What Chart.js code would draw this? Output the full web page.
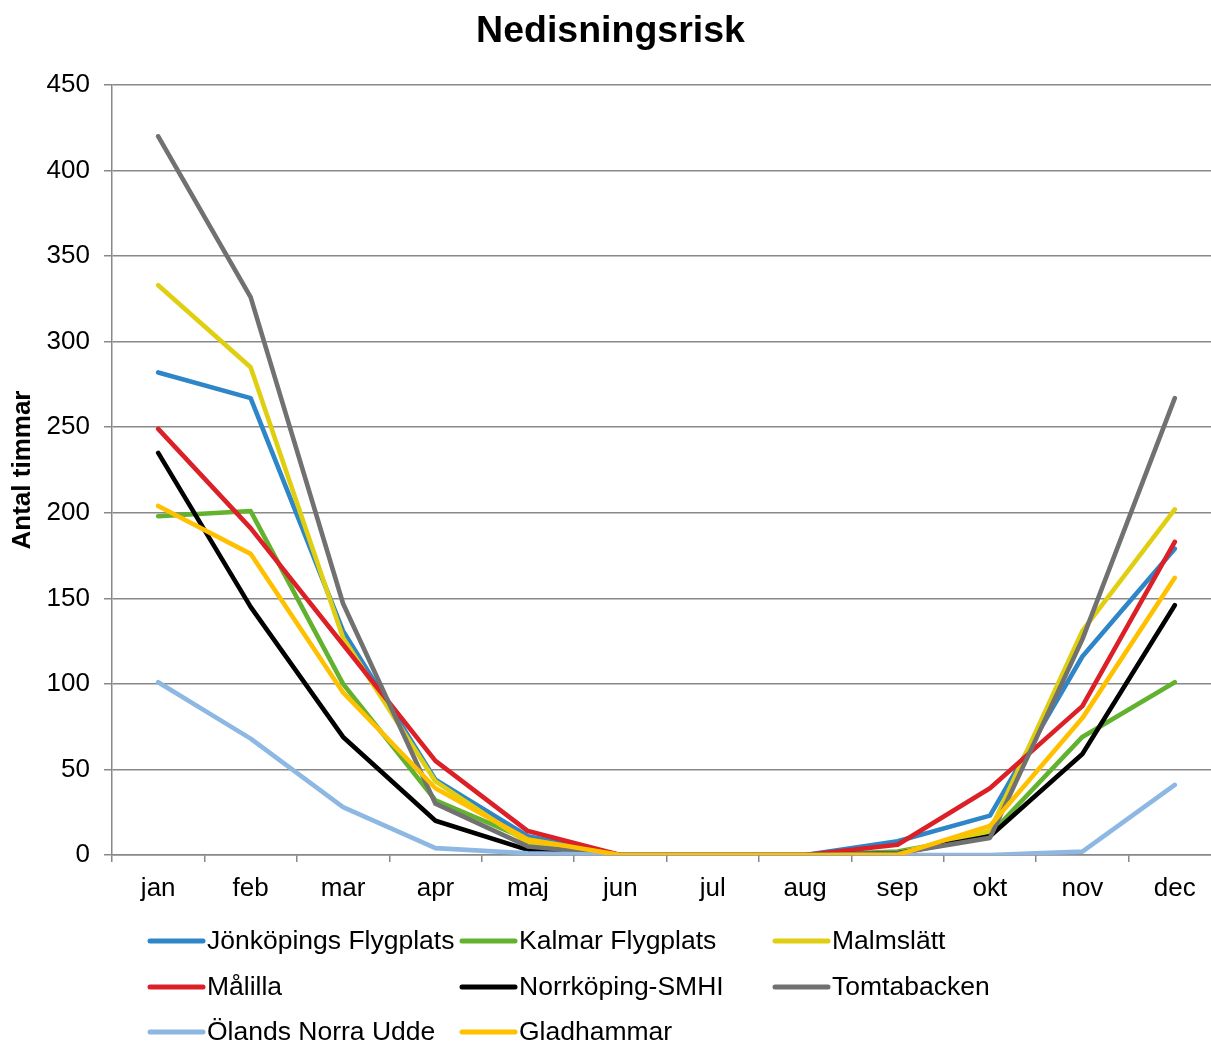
<!DOCTYPE html>
<html>
<head>
<meta charset="utf-8">
<script src="https://cdn.jsdelivr.net/npm/chart.js@4/dist/chart.umd.min.js"></script>
<style>
  html, body { margin: 0; padding: 0; background: #fff; overflow: hidden; width: 1211px; height: 1042px; }
  canvas { display: block; }
</style>
</head>
<body>
<canvas id="c" width="1221" height="1042"></canvas>
<script>
const months = ['jan','feb','mar','apr','maj','jun','jul','aug','sep','okt','nov','dec'];
const yTicks = [0, 50, 100, 150, 200, 250, 300, 350, 400, 450];

const jonkoping   = [282, 267, 131, 44, 11, 0, 0, 0, 8, 23, 116, 179];
const kalmar      = [198, 201, 100, 32, 9, 0, 0, 0, 2, 12, 69, 101];
const malmslatt   = [333, 285, 127, 43, 7, 0, 0, 0, 1, 14, 131, 202];
const malilla     = [249, 191, 123, 55, 14, 0, 0, 0, 6, 39, 87, 183];
const norrkoping  = [235, 145, 69, 20, 3, 0, 0, 0, 1, 11, 59, 146];
const tomtabacken = [420, 326, 147, 30, 5, 0, 0, 0, 1, 10, 126, 267];
const oland       = [101, 68, 28, 4, 1, 0, 0, 0, 0, 0, 2, 41];
const gladhammar  = [204, 176, 95, 39, 9, 0, 0, 0, 0, 17, 80, 162];

const seriesNames = ['Jönköpings Flygplats','Kalmar Flygplats','Malmslätt','Målilla','Norrköping-SMHI','Tomtabacken','Ölands Norra Udde','Gladhammar'];
const seriesData = [jonkoping, kalmar, malmslatt, malilla, norrkoping, tomtabacken, oland, gladhammar];
const seriesColors = ['#2E86C8','#62B22F','#E0CF10','#DC2028','#000000','#717171','#8DB8E3','#FFC000'];

const FONT = "'Liberation Sans', Arial, sans-serif";

const datasets = seriesNames.map((name, i) => ({
  label: name,
  data: seriesData[i],
  borderColor: seriesColors[i],
  backgroundColor: seriesColors[i],
  borderWidth: 4.6,
  pointRadius: 0,
  pointHoverRadius: 0,
  tension: 0,
  fill: false,
  borderJoinStyle: 'round',
  borderCapStyle: 'round',
  order: seriesNames.length - i
}));

const gridLegend = {
  id: 'gridLegend',
  afterDraw(chart) {
    const ctx = chart.ctx;
    const colX = [148, 460, 773];
    const rowY = [941, 987, 1032];
    ctx.save();
    ctx.font = '26.5px ' + FONT;
    ctx.textBaseline = 'middle';
    ctx.textAlign = 'left';
    chart.data.datasets.forEach((ds, i) => {
      const x = colX[i % 3];
      const y = rowY[Math.floor(i / 3)];
      ctx.strokeStyle = ds.borderColor;
      ctx.lineWidth = 5;
      ctx.lineCap = 'round';
      ctx.beginPath();
      ctx.moveTo(x + 2, y);
      ctx.lineTo(x + 55, y);
      ctx.stroke();
      ctx.fillStyle = '#000';
      ctx.fillText(ds.label, x + 59, y + 1);
    });
    ctx.restore();
  }
};

new Chart(document.getElementById('c'), {
  type: 'line',
  data: { labels: months, datasets },
  options: {
    responsive: false,
    animation: false,
    devicePixelRatio: 1,
    layout: { padding: { left: 0, right: 0, top: 0, bottom: 0 } },
    plugins: {
      legend: { display: false },
      tooltip: { enabled: false },
      title: {
        display: true,
        text: 'Nedisningsrisk',
        color: '#000',
        font: { family: FONT, size: 37.5, weight: 'bold' },
        padding: { top: 9, bottom: 31 }
      }
    },
    scales: {
      x: {
        type: 'category',
        offset: true,
        grid: { offset: true, drawOnChartArea: false, drawTicks: true, tickLength: 7, color: '#888', lineWidth: 1.5 },
        border: { display: true, color: '#888', width: 1.5 },
        ticks: { color: '#000', font: { family: FONT, size: 26 }, padding: 11, maxRotation: 0, autoSkip: false },
        afterFit(scale) { scale.height = 187; }
      },
      y: {
        min: 0,
        max: 450,
        afterBuildTicks(scale) { scale.ticks = yTicks.map(v => ({ value: v })); },
        grid: { color: '#888', lineWidth: 1.5, tickLength: 8, drawTicks: true },
        border: { display: true, color: '#888', width: 1.5 },
        ticks: { color: '#000', font: { family: FONT, size: 26 }, padding: 14 },
        title: {
          display: true,
          text: 'Antal timmar',
          color: '#000',
          font: { family: FONT, size: 26, weight: 'bold' },
          padding: { top: 7, bottom: 0 }
        },
        afterFit(scale) { scale.width = 112; }
      }
    }
  },
  plugins: [gridLegend]
});
</script>
</body>
</html>
